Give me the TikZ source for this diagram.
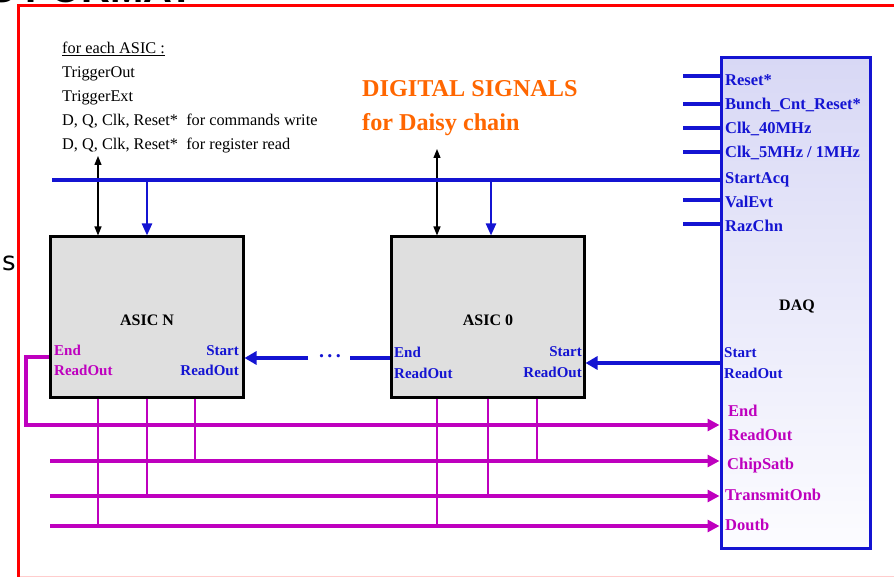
\documentclass[tikz,border=0pt]{standalone}
\usepackage{fontspec}
\setmainfont{Liberation Serif}
\newfontfamily\sansdv{DejaVu Sans}
\newfontfamily\arialf{Liberation Sans}
\usetikzlibrary{arrows.meta}
\definecolor{myblue}{RGB}{20,20,210}
\definecolor{mymag}{RGB}{190,0,190}
\definecolor{myorange}{RGB}{255,102,0}
\definecolor{asicgray}{RGB}{223,223,223}
\definecolor{daqtop}{RGB}{216,216,245}
\definecolor{daqbot}{RGB}{252,252,255}
\definecolor{framered}{RGB}{255,0,0}
\definecolor{framepink}{RGB}{255,205,205}
\tikzset{
 asicbox/.style={draw=black, line width=3pt, fill=asicgray, minimum width=193pt, minimum height=160pt, inner sep=0pt},
 daqbox/.style={draw=myblue, line width=3pt, top color=daqtop, bottom color=daqbot, minimum width=149pt, minimum height=490pt, inner sep=0pt},
 lbl/.style={inner sep=0pt, anchor=base west, font=\bfseries\fontsize{15}{18}\selectfont},
 blbl/.style={lbl, text=myblue},
 mlbl/.style={lbl, text=mymag},
 daqlbl/.style={lbl, text=myblue, font=\bfseries\fontsize{16.5}{18}\selectfont},
 daqmlbl/.style={lbl, text=mymag, font=\bfseries\fontsize{16.5}{18}\selectfont},
 titlelbl/.style={lbl, text=black, anchor=base, font=\bfseries\fontsize{16}{18}\selectfont},
 note/.style={inner sep=0pt, anchor=base west, font=\fontsize{16.3}{20}\selectfont},
 orangelbl/.style={inner sep=0pt, anchor=base west, text=myorange, font=\bfseries\fontsize{24.2}{30}\selectfont},
 bline/.style={draw=myblue, line width=3.2pt},
 barrow/.style={bline, -{Triangle[length=12pt,width=13pt]}},
 bthin/.style={draw=myblue, line width=2.3pt, -{Triangle[length=12pt,width=10pt]}},
 karrow/.style={draw=black, line width=1.2pt, {Triangle[length=9pt,width=7pt]}-{Triangle[length=9pt,width=7pt]}},
 mline/.style={draw=mymag, line width=3.2pt},
 marrow/.style={mline, -{Triangle[length=12pt,width=12pt]}},
 mvert/.style={draw=mymag, line width=2.3pt},
}
\begin{document}
\begin{tikzpicture}[x=1pt,y=-1pt]
\useasboundingbox (0,0) rectangle (894,577);
% clipped heading above the frame
\begin{scope}
\clip (0,0) rectangle (894,4.5);
\node[inner sep=0pt, anchor=base west, font=\arialf\bfseries\fontsize{40}{40}\selectfont] (hdr) at (-12,3) {S FORMAT};
\end{scope}
% frame
\draw[framered, line width=3pt] (18,577) -- (18,5.5) -- (894,5.5);
\draw[framepink, line width=1pt] (19.5,576.5) -- (894,576.5);
\node[inner sep=0pt, font=\sansdv\fontsize{26}{26}\selectfont] (s) at (9,263) {s};

% notes
\node[note] (n1) at (62,54) {\underline{for each ASIC :}};
\node[note] (n2) at (62,78) {TriggerOut};
\node[note] (n3) at (62,102) {TriggerExt};
\node[note] (n4) at (62,126) {D, Q, Clk, Reset*\ \ for commands write};
\node[note] (n5) at (62,150) {D, Q, Clk, Reset*\ \ for register read};
\node[orangelbl] (t1) at (362,97) {DIGITAL SIGNALS};
\node[orangelbl] (t2) at (362,131) {for Daisy chain};

% boxes
\node[asicbox] (asicN) at (146.5,317) {};
\node[asicbox] (asicZ) at (487.5,317) {};
\node[daqbox] (daq) at (795.5,303) {};
\node[titlelbl] (tN) at (147,325) {ASIC N};
\node[titlelbl] (tZ) at (488,325) {ASIC 0};
\node[titlelbl] (tD) at (797,311) {DAQ};

% black bidirectional arrows
\coordinate (kN) at (98,156);
\draw[karrow] (kN) -- (kN |- asicN.north);
\coordinate (kZ) at (437,149);
\draw[karrow] (kZ) -- (kZ |- asicZ.north);

% StartAcq bus
\coordinate (sa) at (52,180);
\draw[bline] (sa) -- (sa -| daq.west);
\coordinate (saN) at (147,180);
\draw[bthin] (saN) -- (saN |- asicN.north);
\coordinate (saZ) at (491,180);
\draw[bthin] (saZ) -- (saZ |- asicZ.north);

% DAQ inputs
\foreach \yy/\nn in {76/ra,104/rb,128/rc,152/rd,200/re,224/rf} {
  \coordinate (\nn) at (683,\yy);
  \draw[bline] (\nn) -- (\nn -| daq.west);
}
\node[daqlbl] (lA) at (725,86) {Reset*};
\node[daqlbl] (lB) at (725,110) {Bunch\_Cnt\_Reset*};
\node[daqlbl] (lC) at (725,134) {Clk\_40MHz};
\node[daqlbl] (lD) at (725,158) {Clk\_5MHz / 1MHz};
\node[daqlbl] (lE) at (725,184) {StartAcq};
\node[daqlbl] (lF) at (725,208) {ValEvt};
\node[daqlbl] (lG) at (725,232) {RazChn};

% Start ReadOut chain
\coordinate (sr) at (700,363);
\draw[barrow] (sr -| daq.west) -- (sr -| asicZ.east);
\coordinate (d1) at (350,358);
\coordinate (d2) at (308,358);
\draw[bline] (d1 -| asicZ.west) -- (d1);
\draw[barrow] (d2) -- (d2 -| asicN.east);
\node[text=myblue, inner sep=0pt, font=\bfseries\fontsize{20}{20}\selectfont] (dots) at (330,356) {.\,.\,.};

% magenta outputs
\coordinate (eN) at (26,357);
\coordinate (yE) at (26,425);
\draw[marrow] (eN -| asicN.west) -- (eN) -- (yE) -- (yE -| daq.west);
\coordinate (yC) at (50,461);
\coordinate (yT) at (50,496);
\coordinate (yD) at (50,526);
\draw[marrow] (yC) -- (yC -| daq.west);
\draw[marrow] (yT) -- (yT -| daq.west);
\draw[marrow] (yD) -- (yD -| daq.west);
\foreach \xx/\yy/\bb in {98/yD/asicN,147/yT/asicN,195/yC/asicN,437/yD/asicZ,488/yT/asicZ,537/yC/asicZ} {
  \coordinate (vv) at (\xx,0);
  \draw[mvert] (vv |- \bb.south) -- (vv |- \yy);
}

% ASIC labels
\node[mlbl] (aN1) at (54,355) {End};
\node[mlbl] (aN2) at (54,375) {ReadOut};
\node[blbl, anchor=base east] (aN3) at (239,355) {Start};
\node[blbl, anchor=base east] (aN4) at (239,375) {ReadOut};
\node[blbl] (aZ1) at (394,357) {End};
\node[blbl] (aZ2) at (394,378) {ReadOut};
\node[blbl, anchor=base east] (aZ3) at (582,356) {Start};
\node[blbl, anchor=base east] (aZ4) at (582,377) {ReadOut};
\node[blbl] (dS1) at (724,357) {Start};
\node[blbl] (dS2) at (724,378) {ReadOut};
\node[daqmlbl] (dM1) at (728,416) {End};
\node[daqmlbl] (dM2) at (728,440) {ReadOut};
\node[daqmlbl] (dM3) at (727,469) {ChipSatb};
\node[daqmlbl] (dM4) at (725,500) {TransmitOnb};
\node[daqmlbl] (dM5) at (725,530) {Doutb};
\end{tikzpicture}
\end{document}
